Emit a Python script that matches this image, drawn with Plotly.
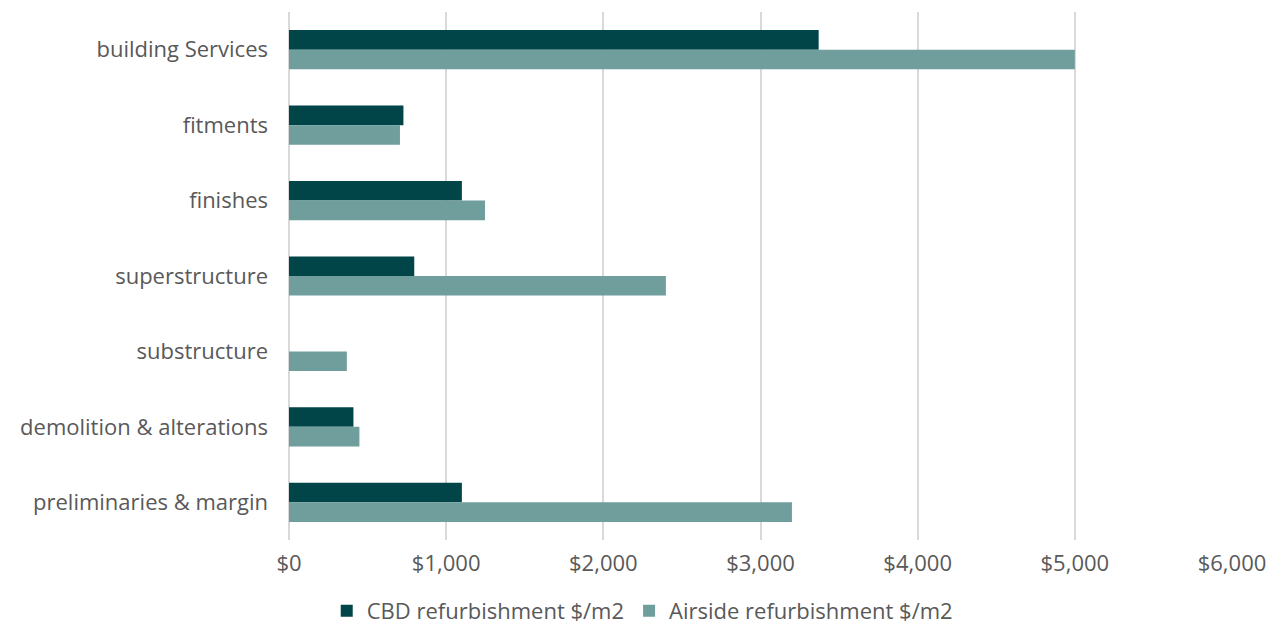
import plotly.graph_objects as go

categories = ["building Services", "fitments", "finishes", "superstructure",
              "substructure", "demolition & alterations", "preliminaries & margin"]
cbd_values = [3370, 728, 1100, 797, 0, 410, 1100]
airside_values = [5000, 706, 1247, 2398, 368, 448, 3200]
tick_vals = [0, 1000, 2000, 3000, 4000, 5000, 6000]
tick_text = ["$0", "$1,000", "$2,000", "$3,000", "$4,000", "$5,000", "$6,000"]

font_family = "Open Sans, Noto Sans, sans-serif"
text_color = "#595959"

fig = go.Figure()
fig.add_trace(go.Bar(
    y=categories, x=cbd_values, orientation="h",
    name="CBD refurbishment $/m2",
    marker=dict(color="#024548", line=dict(width=0)),
))
fig.add_trace(go.Bar(
    y=categories, x=airside_values, orientation="h",
    name="Airside refurbishment $/m2",
    marker=dict(color="#6F9E9C", line=dict(width=0)),
))

fig.update_layout(
    width=1271, height=623,
    margin=dict(l=281, r=47, t=4, b=91),
    plot_bgcolor="white", paper_bgcolor="white",
    barmode="group", bargap=0.48, bargroupgap=0,
    font=dict(family=font_family, size=22, color=text_color),
    showlegend=True,
    legend=dict(orientation="h", xref="container", yref="container",
                x=0.499, xanchor="center", y=0.032, yanchor="middle",
                font=dict(size=22, color=text_color), traceorder="normal",
                itemwidth=30),
    xaxis=dict(range=[0, 6000], tickvals=tick_vals, ticktext=tick_text,
               showgrid=True, gridcolor="#D9D9D9", gridwidth=2,
               zeroline=True, zerolinecolor="#D9D9D9", zerolinewidth=2,
               showline=False, ticks="", ticklen=0, automargin=False,
               ticklabelstandoff=8,
               tickfont=dict(size=22, color=text_color)),
    yaxis=dict(autorange="reversed", showgrid=False, ticks="",
               showline=False, automargin=False, ticklabelstandoff=20,
               tickfont=dict(size=22, color=text_color)),
)

fig.write_html("out.html")
